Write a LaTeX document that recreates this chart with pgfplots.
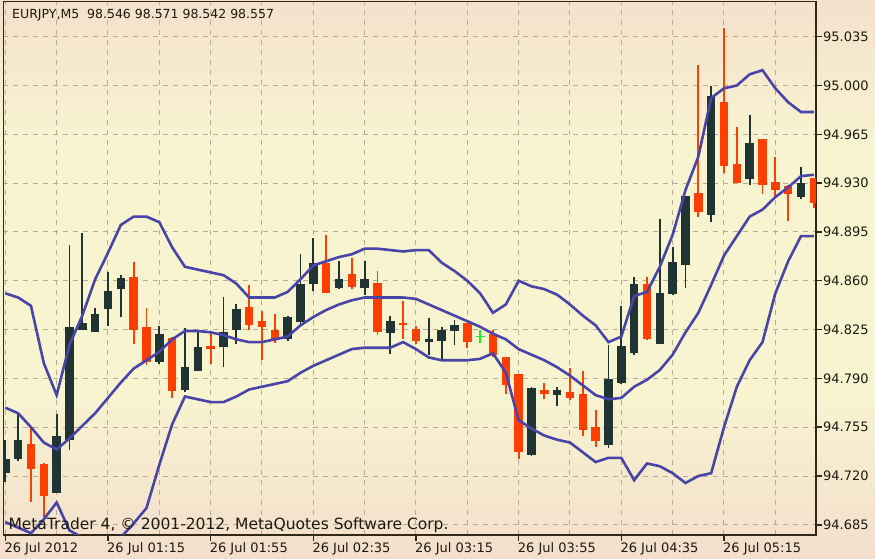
\documentclass[border=0pt]{standalone}
\usepackage{fontspec}
\setmainfont{DejaVu Sans}
\usepackage{pgfplots}
\pgfplotsset{compat=1.18}
\usepackage{pgfplotstable}
\usetikzlibrary{backgrounds}

\definecolor{bullc}{RGB}{32,52,52}
\definecolor{bearc}{RGB}{255,62,0}
\definecolor{dojic}{RGB}{40,230,40}
\definecolor{bandc}{RGB}{72,68,168}
\definecolor{gridc}{RGB}{182,172,152}
\definecolor{axc}{RGB}{50,40,25}
\definecolor{txtc}{RGB}{30,25,15}
\definecolor{bgtop}{RGB}{244,225,204}
\definecolor{bgmid}{RGB}{248,244,208}
\definecolor{bgbot}{RGB}{243,222,204}

\pgfdeclareverticalshading{bgshade}{100bp}{color(0bp)=(bgbot); color(25bp)=(bgbot); color(40bp)=(bgmid); color(62bp)=(bgmid); color(75bp)=(bgtop); color(100bp)=(bgtop)}

% EURJPY M5 candles: index, open, high, low, close
\pgfplotstableread{
i o h l c
0 94.723 94.747 94.717 94.733
1 94.733 94.765 94.731 94.746
4 94.709 94.765 94.708 94.750
5 94.747 94.886 94.739 94.828
6 94.825 94.894 94.825 94.830
7 94.825 94.841 94.824 94.838
8 94.840 94.867 94.828 94.853
9 94.855 94.864 94.834 94.863
12 94.802 94.828 94.801 94.822
14 94.784 94.826 94.780 94.800
15 94.797 94.825 94.796 94.814
17 94.813 94.849 94.799 94.824
18 94.825 94.844 94.816 94.840
22 94.818 94.835 94.817 94.834
23 94.832 94.880 94.828 94.859
24 94.858 94.891 94.853 94.873
26 94.855 94.874 94.854 94.862
28 94.855 94.876 94.851 94.862
30 94.823 94.836 94.809 94.832
33 94.817 94.834 94.807 94.819
34 94.818 94.828 94.805 94.826
35 94.824 94.832 94.814 94.828
41 94.736 94.785 94.735 94.784
43 94.779 94.784 94.770 94.783
47 94.743 94.815 94.741 94.790
48 94.787 94.842 94.786 94.813
49 94.810 94.863 94.807 94.859
51 94.816 94.904 94.815 94.853
52 94.851 94.885 94.850 94.874
53 94.871 94.922 94.856 94.921
55 94.907 95.001 94.903 94.992
58 94.934 94.980 94.930 94.960
62 94.920 94.941 94.918 94.930
}\bull

\pgfplotstableread{
i o h l c
2 94.744 94.755 94.702 94.726
3 94.729 94.730 94.691 94.706
10 94.864 94.875 94.816 94.826
11 94.827 94.841 94.800 94.802
13 94.820 94.821 94.777 94.782
16 94.813 94.825 94.801 94.811
19 94.842 94.857 94.825 94.829
20 94.831 94.839 94.804 94.827
21 94.825 94.837 94.816 94.818
25 94.874 94.892 94.851 94.852
27 94.865 94.877 94.855 94.856
29 94.859 94.868 94.822 94.824
31 94.830 94.846 94.819 94.829
32 94.827 94.828 94.815 94.818
36 94.830 94.831 94.813 94.816
38 94.822 94.825 94.806 94.807
39 94.806 94.806 94.779 94.786
40 94.794 94.795 94.734 94.738
42 94.782 94.787 94.776 94.779
44 94.781 94.798 94.775 94.777
45 94.780 94.797 94.750 94.754
46 94.755 94.769 94.742 94.745
50 94.858 94.862 94.817 94.818
54 94.923 95.015 94.906 94.909
56 94.988 95.042 94.938 94.942
57 94.945 94.970 94.930 94.931
59 94.962 94.963 94.923 94.929
60 94.931 94.950 94.921 94.925
61 94.928 94.929 94.903 94.922
63 94.934 94.934 94.913 94.916
}\bear

\pgfplotstableread{
i o h l c
37 94.820 94.825 94.816 94.820
}\doji

% Bollinger bands: upper, middle, lower
\pgfplotstableread{
i up mid lo
0 94.851 94.769 94.687
1 94.848 94.765 94.683
2 94.842 94.755 94.679
3 94.801 94.744 94.689
4 94.778 94.739 94.701
5 94.814 94.747 94.681
6 94.835 94.756 94.676
7 94.861 94.765 94.670
8 94.880 94.776 94.672
9 94.900 94.787 94.676
10 94.906 94.797 94.686
11 94.906 94.803 94.697
12 94.902 94.809 94.728
13 94.884 94.818 94.757
14 94.870 94.824 94.777
15 94.868 94.824 94.775
16 94.866 94.823 94.773
17 94.864 94.821 94.773
18 94.858 94.818 94.777
19 94.848 94.816 94.782
20 94.848 94.816 94.784
21 94.848 94.818 94.786
22 94.852 94.820 94.788
23 94.861 94.828 94.794
24 94.871 94.834 94.799
25 94.874 94.839 94.803
26 94.877 94.843 94.807
27 94.879 94.846 94.811
28 94.883 94.848 94.812
29 94.883 94.848 94.812
30 94.882 94.848 94.812
31 94.881 94.848 94.816
32 94.882 94.847 94.811
33 94.882 94.843 94.805
34 94.873 94.839 94.803
35 94.867 94.835 94.803
36 94.860 94.831 94.803
37 94.851 94.827 94.804
38 94.837 94.822 94.808
39 94.843 94.818 94.794
40 94.860 94.811 94.760
41 94.856 94.807 94.754
42 94.854 94.803 94.749
43 94.850 94.798 94.746
44 94.843 94.792 94.744
45 94.835 94.785 94.737
46 94.828 94.778 94.730
47 94.816 94.775 94.733
48 94.820 94.776 94.733
49 94.849 94.784 94.717
50 94.852 94.789 94.729
51 94.870 94.796 94.727
52 94.893 94.807 94.722
53 94.925 94.823 94.715
54 94.949 94.837 94.720
55 94.991 94.857 94.722
56 94.998 94.878 94.755
57 95.000 94.892 94.784
58 95.008 94.906 94.803
59 95.011 94.911 94.816
60 94.998 94.920 94.851
61 94.988 94.927 94.874
62 94.981 94.935 94.892
63 94.981 94.936 94.892
}\bands

\pgfplotsset{
  wick/.style={draw=none, no markers, forget plot,
    error bars/.cd, y dir=both, y explicit, error mark=none,
    error bar style={draw=#1, line width=1.8pt}},
  body/.style={draw=none, no markers, forget plot,
    error bars/.cd, y dir=both, y explicit, error mark=none,
    error bar style={draw=#1, line width=8.5pt}},
}

\begin{document}
\begin{tikzpicture}
\begin{axis}[
  at={(0pt,0pt)}, anchor=south west,
  scale only axis, width=812.7pt, height=533.3pt,
  xmin=-0.156, xmax=63.17,
  ymin=94.6777, ymax=95.0601,
  axis line style={draw=axc, line width=1.4pt},
  tick align=outside,
  major tick length=6pt, minor tick length=0pt,
  tick style={draw=axc, line width=1.4pt},
  xtick pos=left, ytick pos=right, yticklabel pos=right,
  xtick={0,8,...,56},
  minor xtick={4,12,...,60},
  xticklabels={26 Jul 2012,26 Jul 01:15,26 Jul 01:55,26 Jul 02:35,26 Jul 03:15,26 Jul 03:55,26 Jul 04:35,26 Jul 05:15},
  ytick={94.685,94.72,94.755,94.79,94.825,94.86,94.895,94.93,94.965,95,95.035},
  yticklabels={94.685,94.720,94.755,94.790,94.825,94.860,94.895,94.930,94.965,95.000,95.035},
  ticklabel style={font=\fontsize{13}{15}\selectfont, text=txtc},
  xticklabel style={anchor=north west, inner sep=0pt, xshift=-1pt, yshift=-1pt},
  yticklabel style={anchor=west, inner sep=0pt, xshift=1pt},
  grid=both,
  major grid style={draw=gridc, line width=1pt, dash pattern=on 5pt off 5pt},
  minor grid style={draw=gridc, line width=1pt, dash pattern=on 5pt off 5pt},
]
\addplot[wick=bullc] table[x=i, y expr={(\thisrow{h}+\thisrow{l})/2}, y error expr={(\thisrow{h}-\thisrow{l})/2}]{\bull};
\addplot[body=bullc] table[x=i, y expr={(\thisrow{o}+\thisrow{c})/2}, y error expr={abs(\thisrow{o}-\thisrow{c})/2}]{\bull};
\addplot[wick=bearc] table[x=i, y expr={(\thisrow{h}+\thisrow{l})/2}, y error expr={(\thisrow{h}-\thisrow{l})/2}]{\bear};
\addplot[body=bearc] table[x=i, y expr={(\thisrow{o}+\thisrow{c})/2}, y error expr={abs(\thisrow{o}-\thisrow{c})/2}]{\bear};
\addplot[wick=dojic] table[x=i, y expr={(\thisrow{h}+\thisrow{l})/2}, y error expr={(\thisrow{h}-\thisrow{l})/2}]{\doji};
\addplot[only marks, mark=-, mark size=4.5pt, mark options={draw=dojic, line width=1.8pt}, forget plot] table[x=i, y=c]{\doji};
\addplot[bandc, line width=2.6pt, mark=none] table[x=i, y=up]{\bands};
\addplot[bandc, line width=2.6pt, mark=none] table[x=i, y=mid]{\bands};
\addplot[bandc, line width=2.6pt, mark=none] table[x=i, y=lo]{\bands};
\end{axis}
\node[anchor=base west, font=\fontsize{12.5}{14}\selectfont, text=txtc, inner sep=0pt] at (8.7pt,516.7pt) {EURJPY,M5\ \ 98.546 98.571 98.542 98.557};
\node[anchor=base west, font=\fontsize{15.5}{17}\selectfont, text=txtc, inner sep=0pt] at (5pt,5pt) {MetaTrader 4, © 2001-2012, MetaQuotes Software Corp.};
\begin{scope}[on background layer]
\shade[shading=bgshade] (-3.3pt,-24pt) rectangle (871.7pt,535pt);
\end{scope}
\pgfresetboundingbox
\path[use as bounding box] (-3.3pt,-24pt) rectangle (871.7pt,535pt);
\end{tikzpicture}
\end{document}
